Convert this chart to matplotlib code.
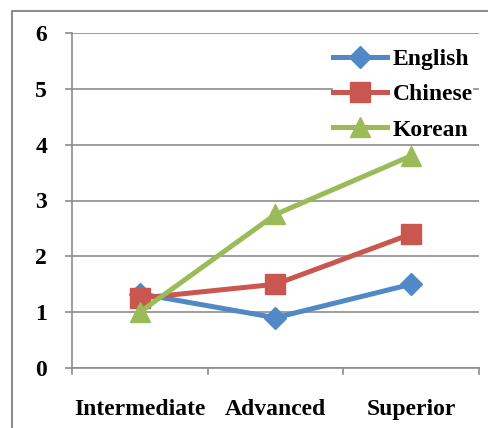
import matplotlib
matplotlib.use("Agg")
import matplotlib.pyplot as plt
from matplotlib.lines import Line2D

levels = ["Intermediate", "Advanced", "Superior"]
english = [1.33, 0.9, 1.5]
chinese = [1.25, 1.5, 2.4]
korean = [1.0, 2.75, 3.8]
y_ticks = [0, 1, 2, 3, 4, 5, 6]

plt.rcParams["font.family"] = ["Liberation Serif", "DejaVu Serif"]
plt.rcParams["font.weight"] = "bold"

fig = plt.figure(figsize=(4.89, 4.28), dpi=100)
ax = fig.add_axes([72 / 489, 1 - 368 / 428, (479 - 72) / 489, (368 - 33) / 428])

grid_c = "#8c8c8c"
x = list(range(len(levels)))
ax.plot(x, english, color="#5089C6", lw=3.6, marker="D", ms=11, label="English", zorder=3)
ax.plot(x, chinese, color="#C9564F", lw=3.6, marker="s", ms=14, label="Chinese", zorder=4)
ax.plot(x, korean, color="#9BBB59", lw=3.6, marker="^", ms=15, label="Korean", zorder=5)

ax.set_xlim(-0.5, len(levels) - 0.5)
ax.set_ylim(0, 6)
ax.set_yticks(y_ticks)
ax.set_yticklabels([str(v) for v in y_ticks], fontsize=17, fontweight="bold")
ax.set_xticks(x)
ax.set_xticklabels(levels, fontsize=17, fontweight="bold")
ax.tick_params(axis="x", length=0, pad=22)
ax.tick_params(axis="y", length=5, width=1.2, color=grid_c, pad=13)

# category boundary ticks on the bottom axis
for b in [-0.5, 0.5, 1.5, 2.5]:
    ax.plot([b, b], [0, -0.11], color=grid_c, lw=1.2, clip_on=False, zorder=1)

ax.yaxis.grid(True, color=grid_c, lw=1.2)
ax.set_axisbelow(True)
for s in ["top", "right"]:
    ax.spines[s].set_visible(False)
for s in ["left", "bottom"]:
    ax.spines[s].set_color(grid_c)
    ax.spines[s].set_linewidth(1.2)

leg = ax.legend(loc="upper right", bbox_to_anchor=(0.985, 0.953), frameon=True,
                fancybox=False, edgecolor="none", framealpha=1.0,
                prop={"size": 17, "weight": "bold"}, handlelength=2.3,
                handletextpad=0.25, labelspacing=0.58, borderpad=0.0,
                borderaxespad=0.0)

# outer chart frame
fig.add_artist(Line2D([12 / 489, 12 / 489, 1.0], [0.0, 1 - 11 / 428, 1 - 11 / 428],
                      transform=fig.transFigure, color="#8c8c8c", lw=1.5))

fig.savefig("out.png", dpi=100, facecolor="white")
